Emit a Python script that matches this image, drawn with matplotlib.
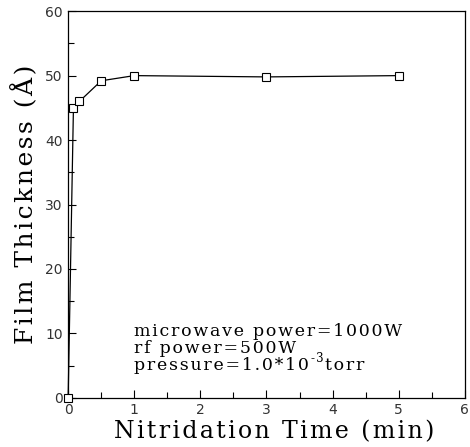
import numpy as np
import matplotlib.pyplot as plt
from matplotlib.ticker import MultipleLocator

# nitridation time (min) and film thickness (Angstrom)
time_min = [0.0, 0.08, 0.17, 0.5, 1.0, 3.0, 5.0]
thickness = [0.0, 45.0, 46.0, 49.2, 50.0, 49.8, 50.0]

conditions = ["microwave power=1000W",
              "rf power=500W",
              "pressure=1.0*10"]
pressure_exp = "-3"
pressure_unit = "torr"

HAIR = '\u200a'


def spaced(s, sep=HAIR):
    # old typewriter-ish look: spread the letters a bit
    return sep.join(s)


fig = plt.figure(figsize=(4.7, 4.47), dpi=100)
ax = fig.add_axes([0.145, 0.11, 0.844, 0.865])

ax.plot(time_min, thickness, color='black', lw=0.9,
        marker='s', markersize=6, markerfacecolor='white',
        markeredgecolor='black', markeredgewidth=0.8, clip_on=False, zorder=3)

ax.set_xlim(0, 6)
ax.set_ylim(0, 60)
ax.xaxis.set_major_locator(MultipleLocator(1))
ax.xaxis.set_minor_locator(MultipleLocator(0.5))
ax.yaxis.set_major_locator(MultipleLocator(10))
ax.yaxis.set_minor_locator(MultipleLocator(5))
ax.tick_params(which='both', direction='in', top=False, right=False,
               labelsize=10, labelcolor='#333333', pad=4)
ax.tick_params(which='major', length=6, width=0.8)
ax.tick_params(which='minor', length=4, width=0.8)
for s in ax.spines.values():
    s.set_linewidth(0.9)

ax.set_xlabel(spaced("Nitridation Time (min)"), family='DejaVu Serif',
              fontsize=17, labelpad=0)
ax.xaxis.set_label_coords(0.52, -0.058, transform=ax.transAxes)
ax.xaxis.label.set_va('top')
ax.set_ylabel(spaced("Film Thickness (Å)"), family='DejaVu Serif',
              fontsize=18, labelpad=5)

# condition notes, one line each
font = dict(family='DejaVu Serif', fontsize=12.5, va='baseline', ha='left')
ys = [9.6, 6.95, 4.3]
for line, y in zip(conditions, ys):
    t = ax.text(1.0, y, spaced(line), **font)

# superscript exponent and unit after the last line
fig.canvas.draw()
bb = t.get_window_extent()
x_end = ax.transData.inverted().transform((bb.x1, bb.y0))[0]
e = ax.annotate(spaced(pressure_exp), (x_end, ys[-1]), xytext=(1, 6),
                textcoords='offset points', family='DejaVu Serif',
                fontsize=8.5, va='baseline', ha='left')
fig.canvas.draw()
bb = e.get_window_extent()
x_end = ax.transData.inverted().transform((bb.x1, bb.y0))[0]
ax.annotate(spaced(pressure_unit), (x_end, ys[-1]), xytext=(1, 0),
            textcoords='offset points', **font)

fig.savefig("out.png", dpi=100)
